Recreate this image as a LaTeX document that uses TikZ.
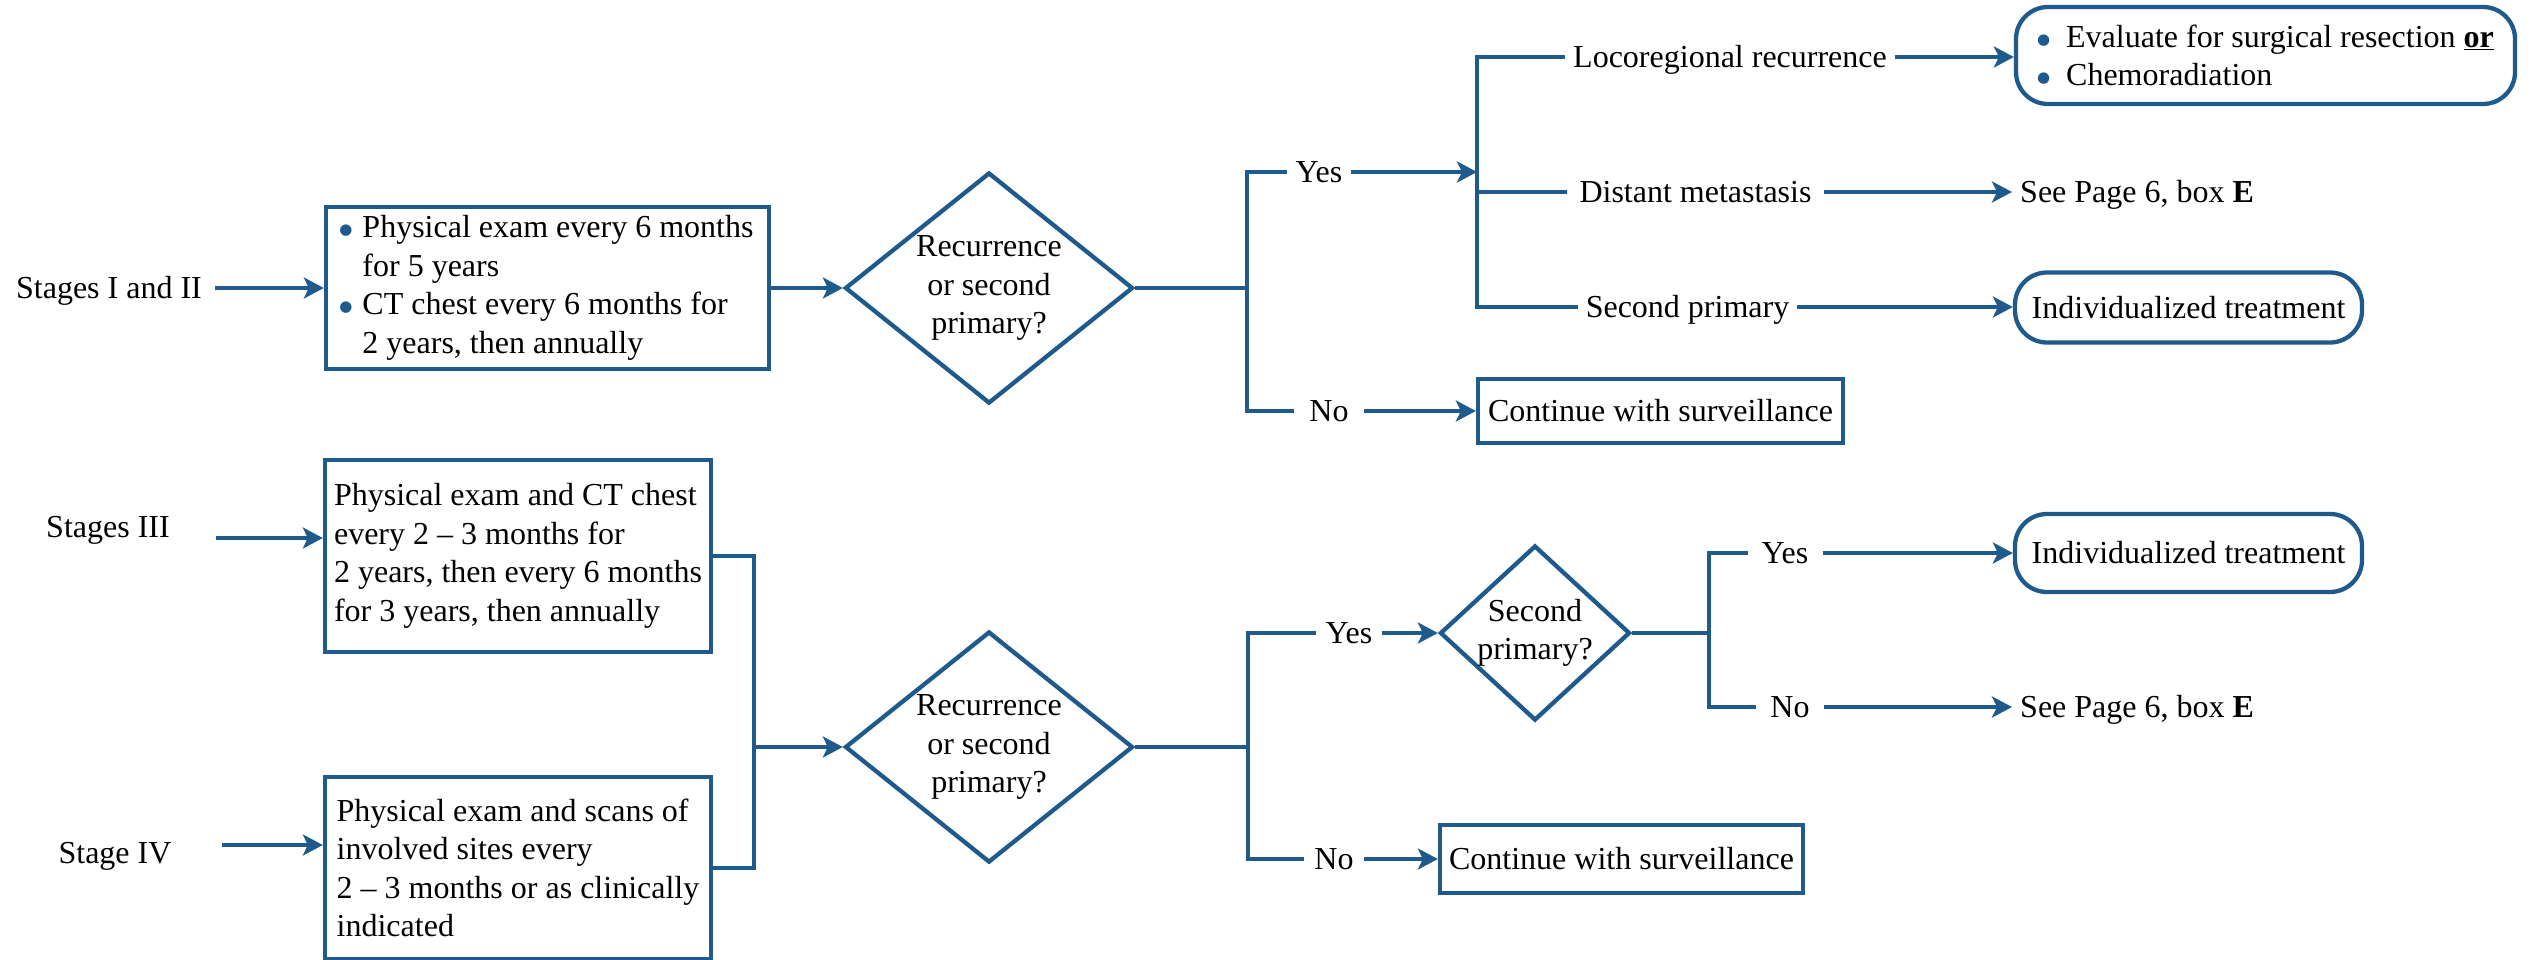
\documentclass[tikz,border=0pt]{standalone}
\usepackage{fontspec}
\setmainfont{Liberation Serif}
\newfontfamily\symfont{DejaVu Sans}
\usetikzlibrary{shapes.geometric,arrows.meta}
\definecolor{flowblue}{RGB}{31,90,140}
% a blue bullet, and bullets with their hanging indents
\newcommand{\bigdot}{\raisebox{3pt}{\symfont\fontsize{15}{15}\selectfont\textcolor{flowblue}{●}}}
\newcommand{\bulA}{\makebox[21pt][l]{\hspace{-2pt}\bigdot}}
\newcommand{\bulB}{\makebox[29pt][l]{\bigdot}}

\begin{document}
\begin{tikzpicture}[x=1pt,y=-1pt,
  every node/.style={font=\fontsize{32}{38.5}\selectfont, text=black},
  ln/.style={draw=flowblue, line width=4.3pt},
  arr/.style={ln, -{Stealth[length=20pt,width=21pt,inset=5pt]}},
  sq/.style={draw=flowblue, line width=4.3pt, rectangle, inner sep=0pt, align=left},
  rnd/.style={sq, rounded corners=32pt},
  dec/.style={draw=flowblue, line width=4.3pt, diamond, inner sep=0pt},
  lbl/.style={inner ysep=0pt, inner xsep=9pt, text height=21pt, text depth=0pt},
]
\useasboundingbox (0,0) rectangle (2532,959);

% ---------- Stages I and II ----------
\node[lbl, inner xsep=13pt] (s1) at (109,288) {Stages I and II};
\node[sq, minimum width=443pt, minimum height=162pt] (b1) at (547.5,288)
  {\bulA Physical exam every 6 months\\
   \hspace*{21pt}for 5 years\\
   \bulA CT chest every 6 months for\\
   \hspace*{21pt}2 years, then annually};
\node[dec, minimum width=288pt, minimum height=231pt,
  label={[align=center]center:Recurrence\\or second\\primary?}] (d1) at (989,288) {};
\coordinate (j1) at (1247,288);
\node[lbl] (y1) at (1319,172) {Yes};
\node[lbl, inner xsep=15pt] (n1) at (1329,411) {No};
\node[sq, minimum width=365pt, minimum height=64pt] (c1) at (1660.5,411) {Continue with surveillance};
\coordinate (bus1) at (1477,172);
\node[lbl, inner xsep=8pt] (lr) at (1730,57) {Locoregional recurrence};
\node[lbl, inner xsep=12pt] (dm) at (1695.5,192) {Distant metastasis};
\node[lbl, inner xsep=8pt] (sp) at (1687.5,307) {Second primary};
\node[rnd, minimum width=499pt, minimum height=97pt] (lrb) at (2265.5,55.5)
  {\bulB Evaluate for surgical resection \textbf{\underline{or}}\\
   \bulB Chemoradiation};
\node[lbl, anchor=west, inner xsep=8pt] (e1) at (2012,192) {See Page 6, box \textbf{E}};
\node[rnd, minimum width=347pt, minimum height=70pt] (it1) at (2188.5,307.5) {Individualized treatment};

\draw[arr] (s1.east) -- (b1.west);
\draw[arr] (b1.east) -- (d1.west);
\draw[ln] (d1.east) -- (j1);
\draw[ln] (y1.west) -| (j1) |- (n1.west);
\draw[arr] (y1.east) -- (bus1);
\draw[arr] (n1.east) -- (c1.west);
\draw[ln] (lr.west) -| (bus1) |- (sp.west);
\draw[ln] (dm.west) -- (dm.west -| bus1);
\draw[arr] (lr.east) -- (lr.east -| lrb.west);
\draw[arr] (dm.east) -- (e1.west);
\draw[arr] (sp.east) -- (sp.east -| it1.west);

% ---------- Stages III and IV ----------
\node[lbl] (s3) at (108,527) {Stages III};
\coordinate (a3) at (216,538);
\node[sq, minimum width=386pt, minimum height=192pt] (b3) at (518,556)
  {Physical exam and CT chest\\every 2 – 3 months for\\2 years, then every 6 months\\for 3 years, then annually};
\node[lbl] (s4) at (115,853) {Stage IV};
\coordinate (a4) at (222,845);
\node[sq, minimum width=386pt, minimum height=182pt] (b4) at (518,868)
  {Physical exam and scans of\\involved sites every\\2 – 3 months or as clinically\\indicated};
\coordinate (j2) at (754,747);
\node[dec, minimum width=288pt, minimum height=231pt,
  label={[align=center]center:Recurrence\\or second\\primary?}] (d2) at (989,747) {};
\coordinate (j3) at (1248,747);
\node[lbl, inner xsep=10pt] (y2) at (1349,633) {Yes};
\node[dec, minimum width=190pt, minimum height=175pt,
  label={[align=center]center:Second\\primary?}] (d3) at (1535,633) {};
\node[lbl, inner xsep=10pt] (n2) at (1334,859) {No};
\node[sq, minimum width=363pt, minimum height=68pt] (c2) at (1621.5,859) {Continue with surveillance};
\coordinate (j4) at (1709,633);
\node[lbl, inner xsep=14pt] (y3) at (1785,553) {Yes};
\node[rnd, minimum width=347pt, minimum height=78pt] (it2) at (2188.5,553) {Individualized treatment};
\node[lbl, inner xsep=14pt] (n3) at (1790,707) {No};
\node[lbl, anchor=west, inner xsep=8pt] (e2) at (2012,707) {See Page 6, box \textbf{E}};

\draw[arr] (a3) -- (a3 -| b3.west);
\draw[arr] (a4) -- (a4 -| b4.west);
\draw[ln] (b3.east) -| (j2) |- (b4.east);
\draw[arr] (j2) -- (d2.west);
\draw[ln] (d2.east) -- (j3);
\draw[ln] (y2.west) -| (j3) |- (n2.west);
\draw[arr] (y2.east) -- (d3.west);
\draw[arr] (n2.east) -- (c2.west);
\draw[ln] (d3.east) -- (j4);
\draw[ln] (y3.west) -| (j4) |- (n3.west);
\draw[arr] (y3.east) -- (it2.west);
\draw[arr] (n3.east) -- (e2.west);
\end{tikzpicture}
\end{document}
